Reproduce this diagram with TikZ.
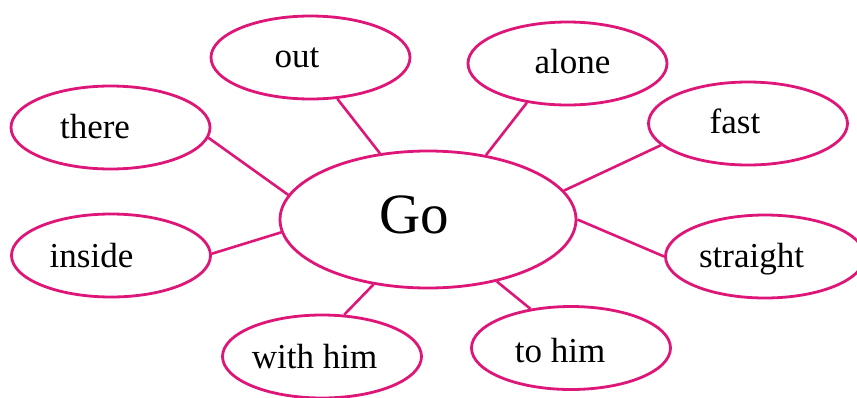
\documentclass[tikz,border=0pt]{standalone}
\usepackage{fontspec}
\setmainfont{Liberation Serif}
\usetikzlibrary{shapes.geometric}
\definecolor{pinkline}{RGB}{222,22,120}
\tikzset{
  bub/.style={ellipse, draw=pinkline, line width=2.8pt, inner sep=0pt,
              minimum width=199pt, minimum height=83pt},
  gobub/.style={bub, minimum width=296pt, minimum height=137pt},
  lbl/.style={anchor=base, inner sep=0pt, font=\fontsize{35}{40}\selectfont},
  golbl/.style={anchor=base, inner sep=0pt, font=\fontsize{57}{64}\selectfont},
  conn/.style={draw=pinkline, line width=2.6pt}
}
\begin{document}
\begin{tikzpicture}[x=1pt,y=-1pt]
\useasboundingbox[fill=white] (0,0) rectangle (857,397);
\node[gobub] (go) at (428,219.5) {};
\node[golbl] (golabel) at (414,233) {Go};

\node[bub] (there) at (110.5,127.5) {};
\node[lbl] (therelabel) at (95,138) {there};
\node[bub] (out) at (310.5,57.5) {};
\node[lbl] (outlabel) at (297,67) {out};
\node[bub] (alone) at (567.5,63.5) {};
\node[lbl] (alonelabel) at (572.5,73) {alone};
\node[bub] (fast) at (748,123.5) {};
\node[lbl] (fastlabel) at (735,133) {fast};
\node[bub] (straight) at (765,256.5) {};
\node[lbl] (straightlabel) at (751.5,267) {straight};
\node[bub] (inside) at (111,255.5) {};
\node[lbl] (insidelabel) at (91.5,267) {inside};
\node[bub] (withhim) at (322,356.5) {};
\node[lbl] (withhimlabel) at (314.5,368) {with him};
\node[bub] (tohim) at (571,348) {};
\node[lbl] (tohimlabel) at (560,362) {to him};

\draw[conn] (go.170.9) -- (there.-6.1);
\draw[conn] (go.126.4) -- (out.-57.7);
\draw[conn] (go.48) -- (alone.224.3);
\draw[conn] (go.12.8) -- (fast.194.3);
\draw[conn] (go.-0.2) -- (straight.180);
\draw[conn] (go.185.2) -- (inside.1.4);
\draw[conn] (go.230.2) -- (withhim.62.6);
\draw[conn] (go.-42.3) -- (tohim.136.4);
\end{tikzpicture}
\end{document}
